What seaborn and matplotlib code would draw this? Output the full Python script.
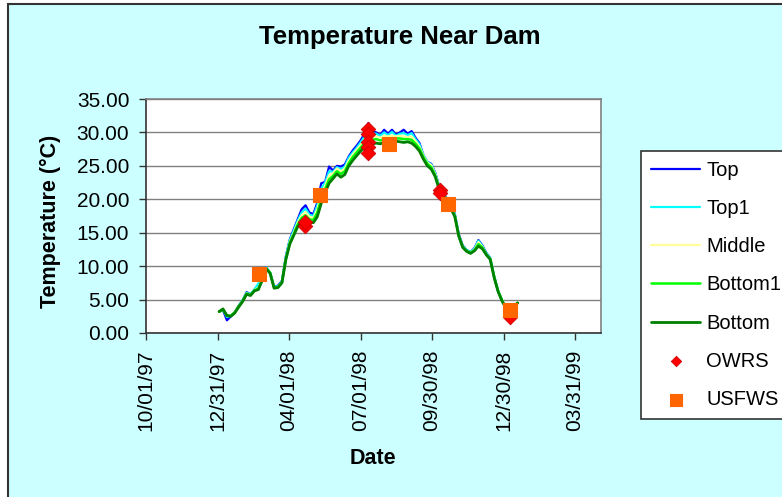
import pandas as pd
import matplotlib.pyplot as plt
import matplotlib.dates as mdates
from matplotlib.patches import Rectangle
from matplotlib.ticker import FormatStrFormatter
import seaborn as sns

# logger readings, one every 5 days from 1998-01-02
dates = pd.date_range('1998-01-02', periods=77, freq='5D')

top = [3.2, 3.4, 1.9, 2.5, 3.1, 4.1, 4.9, 6.1, 5.8, 6.5,
       7.2, 8.3, 9.8, 9.0, 6.9, 7.1, 7.8, 11.5, 14.0, 15.5,
       17.0, 18.5, 19.1, 18.0, 17.8, 19.5, 22.4, 22.6, 24.9, 24.3,
       25.0, 24.9, 25.2, 26.4, 27.3, 28.0, 28.8, 29.8, 31.4, 30.2,
       30.0, 29.6, 30.4, 29.8, 30.4, 29.7, 30.0, 30.4, 29.8, 30.2,
       29.2, 28.4, 26.6, 25.6, 25.3, 24.0, 22.0, 21.0, 20.1, 19.2,
       17.8, 14.8, 13.1, 12.4, 12.1, 12.7, 13.9, 13.1, 12.0, 11.2,
       8.5, 6.3, 4.9, 3.8, 3.6, 4.0, 4.5]

top1 = [3.2, 3.5, 2.4, 2.6, 3.1, 4.0, 4.9, 6.0, 5.8, 6.5,
        7.4, 8.2, 9.8, 9.0, 6.9, 7.0, 7.7, 11.4, 13.9, 15.3,
        16.8, 18.0, 18.6, 17.7, 17.5, 19.1, 21.6, 22.5, 24.2, 24.1,
        24.8, 24.5, 24.9, 26.2, 27.0, 27.7, 28.5, 29.4, 30.6, 29.9,
        29.8, 29.5, 30.0, 29.6, 30.1, 29.5, 29.8, 29.9, 29.6, 29.9,
        29.0, 28.2, 26.6, 25.6, 25.2, 23.9, 21.9, 20.9, 20.0, 19.0,
        17.7, 14.7, 13.0, 12.4, 12.1, 12.6, 13.8, 13.0, 11.9, 11.2,
        8.5, 6.3, 4.9, 3.8, 3.6, 4.0, 4.5]

middle = [3.2, 3.5, 2.6, 2.6, 3.1, 4.0, 4.8, 5.9, 5.7, 6.4,
          6.8, 8.1, 9.7, 9.0, 6.8, 6.9, 7.6, 11.2, 13.7, 15.0,
          16.5, 17.6, 18.1, 17.4, 17.2, 18.5, 20.6, 22.0, 23.6, 23.9,
          24.6, 24.2, 24.6, 25.8, 26.7, 27.4, 28.1, 28.9, 29.4, 29.4,
          29.4, 29.2, 29.5, 29.4, 29.5, 29.4, 29.5, 29.4, 29.3, 29.4,
          28.7, 27.9, 26.5, 25.5, 25.1, 23.8, 21.8, 20.8, 19.9, 18.9,
          17.6, 14.6, 12.9, 12.3, 12.0, 12.5, 13.6, 12.9, 11.8, 11.1,
          8.4, 6.3, 4.9, 3.8, 3.6, 4.0, 4.5]

bottom1 = [3.2, 3.5, 2.6, 2.6, 3.1, 4.0, 4.8, 5.9, 5.7, 6.4,
           6.6, 8.0, 9.7, 9.0, 6.8, 6.9, 7.6, 11.1, 13.5, 14.8,
           16.2, 17.2, 17.6, 17.0, 16.9, 18.0, 20.0, 21.5, 23.0, 23.5,
           24.2, 23.8, 24.2, 25.4, 26.3, 27.0, 27.7, 28.4, 28.7, 28.9,
           29.0, 28.8, 29.0, 29.1, 29.0, 29.1, 29.1, 29.0, 29.0, 28.9,
           28.3, 27.6, 26.3, 25.3, 24.8, 23.6, 21.7, 20.7, 19.8, 18.8,
           17.5, 14.5, 12.9, 12.3, 12.0, 12.4, 13.3, 12.8, 11.8, 11.1,
           8.4, 6.3, 4.9, 3.8, 3.6, 4.0, 4.5]

bottom = [3.2, 3.6, 2.6, 2.5, 3.0, 3.9, 4.7, 5.8, 5.6, 6.3,
          6.5, 7.9, 9.6, 8.9, 6.7, 6.8, 7.5, 11.0, 13.3, 14.6,
          15.9, 16.7, 17.1, 16.6, 16.5, 17.4, 19.4, 21.0, 22.4, 23.1,
          23.8, 23.3, 23.7, 25.0, 25.8, 26.5, 27.2, 27.8, 28.0, 28.3,
          28.4, 28.3, 28.5, 28.6, 28.5, 28.7, 28.6, 28.5, 28.6, 28.4,
          27.9, 27.2, 26.0, 25.0, 24.5, 23.4, 21.5, 20.5, 19.6, 18.6,
          17.4, 14.5, 12.8, 12.2, 11.9, 12.3, 13.0, 12.6, 11.7, 11.0,
          8.3, 6.2, 4.8, 3.7, 3.5, 4.0, 4.5]

# spot samples
owrs_dates = pd.to_datetime(['1998-04-21', '1998-04-21',
                             '1998-07-10', '1998-07-10', '1998-07-10', '1998-07-10', '1998-07-10',
                             '1998-10-10', '1998-10-10', '1999-01-07'])
owrs_vals = [16.0, 16.6, 30.5, 29.8, 28.6, 27.8, 26.9, 21.4, 20.9, 2.4]

usfws_dates = pd.to_datetime(['1998-02-22', '1998-05-10', '1998-08-06', '1998-10-20', '1999-01-07'])
usfws_vals = [8.8, 20.6, 28.3, 19.3, 3.4]

tick_dates = pd.date_range('1997-10-01', periods=7, freq='91D')

sns.set_style('white')
plt.rcParams['font.family'] = ['Liberation Sans', 'DejaVu Sans']
plt.rcParams['text.color'] = 'black'
plt.rcParams['xtick.color'] = 'black'
plt.rcParams['ytick.color'] = 'black'

fig = plt.figure(figsize=(7.82, 4.97), dpi=100, facecolor='white')
fig.patches.append(Rectangle((8 / 782, -0.05), 1.2, 1.05 - 4 / 497, transform=fig.transFigure,
                             facecolor='#CCFFFF', edgecolor='#333333', lw=1.5, zorder=-10))
ax = fig.add_axes([146 / 782, 164 / 497, 455 / 782, 234 / 497])
ax.set_facecolor('white')

series = [('Top', top, '#0000FF', 1.6), ('Top1', top1, '#00FFFF', 1.6),
          ('Middle', middle, '#FFFF99', 1.6), ('Bottom1', bottom1, '#00FF00', 1.8),
          ('Bottom', bottom, '#008000', 2.0)]
for name, vals, col, lw in series:
    sns.lineplot(x=dates, y=vals, ax=ax, color=col, lw=lw, label=name)

sns.scatterplot(x=owrs_dates, y=owrs_vals, ax=ax, marker='D', color='#FF0000',
                edgecolor='#CC0000', s=55, label='OWRS', zorder=5)
sns.scatterplot(x=usfws_dates, y=usfws_vals, ax=ax, marker='s', color='#FF6600',
                edgecolor='#FF6600', s=95, label='USFWS', zorder=6)

ax.set_ylim(0, 35)
ax.set_yticks(range(0, 36, 5))
ax.yaxis.set_major_formatter(FormatStrFormatter('%.2f'))
ax.set_xlim(pd.Timestamp('1997-10-01'), pd.Timestamp('1999-05-03'))
ax.set_xticks(tick_dates)
ax.xaxis.set_major_formatter(mdates.DateFormatter('%m/%d/%y'))
ax.tick_params(axis='x', labelrotation=90)
ax.tick_params(length=5, width=1, color='#333333', labelcolor='black', labelsize=15,
               pad=7, left=True, bottom=True)
ax.grid(axis='y', color='#808080', lw=1)
ax.grid(axis='x', visible=False)
ax.set_axisbelow(True)
ax.set_xlabel('')
ax.set_ylabel('')
for side in ['top', 'right']:
    ax.spines[side].set_color('#808080')
for side in ['left', 'bottom']:
    ax.spines[side].set_color('#333333')
for s in ax.spines.values():
    s.set_linewidth(1.2)

fig.text(400 / 782, 1 - 37 / 497, 'Temperature Near Dam', ha='center', va='center',
         fontsize=18.5, fontweight='bold', color='black')
fig.text(50 / 782, 1 - 221 / 497, 'Temperature (°C)', ha='center', va='center',
         rotation=90, fontsize=15.5, fontweight='bold', color='black')
fig.text(373 / 782, 1 - 458 / 497, 'Date', ha='center', va='center',
         fontsize=15.5, fontweight='bold', color='black')

leg = ax.legend(loc='upper left', bbox_to_anchor=(641 / 782, 1 - 151 / 497),
                bbox_transform=fig.transFigure, fontsize=14.5, frameon=True,
                fancybox=False, handlelength=2.45, handletextpad=0.3,
                labelspacing=0.95, borderpad=0.5, borderaxespad=0)
leg.get_frame().set_edgecolor('#333333')
leg.get_frame().set_linewidth(1.2)
leg.get_frame().set_facecolor('white')
leg.get_frame().set_alpha(1)
for t in leg.get_texts():
    t.set_color('black')
leg.legend_handles[5].set_sizes([28])
leg.legend_handles[6].set_sizes([80])

plt.savefig('out.png', dpi=100, facecolor=fig.get_facecolor())
